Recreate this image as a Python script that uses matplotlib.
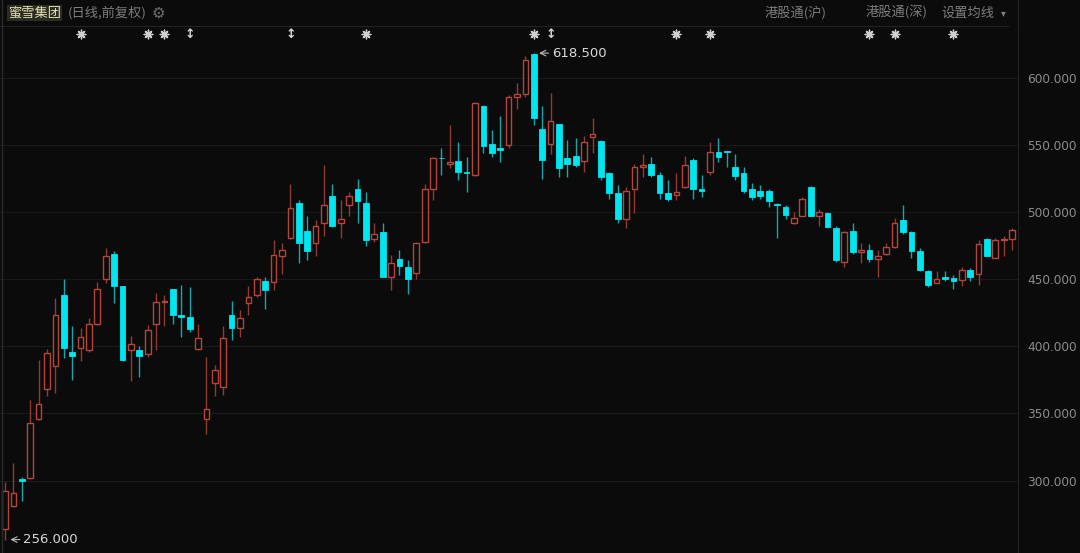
import numpy as np
import matplotlib
matplotlib.use('Agg')
import matplotlib.pyplot as plt
from matplotlib.lines import Line2D

plt.rcParams['font.family'] = ['Noto Sans CJK SC', 'DejaVu Sans']

# ==================== 数据（日线，前复权） ====================
opens = [264, 281, 301, 302, 346, 368, 385, 438, 396, 399,
         397, 417, 450, 469, 445, 397, 397, 394, 417, 433,
         443, 423, 422, 398, 346, 373, 370, 423, 414, 432,
         438, 449, 448, 467, 481, 507, 486, 477, 492, 512,
         492, 505, 517, 507, 480, 485, 452, 465, 459, 455,
         478, 517, 540.5, 536, 538, 530, 528, 579, 551, 548,
         550, 586, 588, 618, 562, 551, 566, 540, 542, 538,
         556, 553, 529, 514, 495, 517, 534, 536, 528, 514,
         513, 519, 539, 517, 530, 545, 545, 534, 529, 517,
         516, 516, 506, 504, 492, 497, 519, 497, 499, 488,
         463, 486, 470, 472, 465, 469, 474, 494, 485, 471,
         456, 447.5, 451.5, 451, 449.5, 457, 454, 480, 466, 479,
         480]
highs = [299, 313, 303, 360, 390, 398, 436, 450, 415, 414,
         421, 448, 473, 471, 445, 408, 400, 416, 440, 438,
         443, 446, 444, 417, 392, 386, 415, 434, 427, 445,
         452, 452, 479, 477, 521, 509, 497, 494, 535, 521,
         509, 515, 525, 515, 492, 492, 468, 472, 464, 478,
         521, 541, 548, 565, 552, 541, 582, 580, 561, 572,
         587, 596, 616, 618.5, 579, 589, 566, 554, 555, 557,
         570, 554, 530, 520, 519, 536, 543, 541, 530, 524,
         529, 542, 540, 528, 552, 555, 545.5, 543, 534, 522,
         520, 517, 507, 505, 500, 511, 519.5, 502, 500, 490,
         486, 492, 477, 476, 472, 477, 496, 505, 486, 473,
         457, 456, 456, 453, 459, 458, 479, 481, 481, 482,
         488]
lows = [256, 280, 285, 301, 345, 363, 365, 391, 375, 389,
        396, 416, 447, 432, 389, 374, 377, 392, 397, 415,
        417, 407, 411, 397, 335, 363, 364, 405, 407, 423,
        437, 428, 442, 454, 480, 462, 464, 467, 482, 489,
        481, 497, 492, 475, 478, 452, 442, 453, 439, 450,
        477, 509, 528, 533, 524, 515, 527, 544, 541, 537,
        548, 577, 586, 565, 525, 543, 526, 526, 534, 530,
        544, 524, 510, 492, 488, 499, 526, 526, 510, 508,
        509, 518, 510, 511, 528, 537, 534, 524, 514, 509,
        510, 504, 481, 495, 491, 497, 497, 490, 488, 463,
        459, 469, 462, 463, 452, 468, 473, 484, 466, 456,
        444, 447, 449, 443, 445, 449, 446, 467, 466, 467,
        472]
closes = [292, 291, 300, 343, 357, 395, 423, 399, 393, 407,
          417, 443, 467, 445, 390, 402, 393, 412, 433, 434,
          423, 422, 413, 406, 353, 382, 406, 414, 421, 437,
          450, 442, 468, 472, 503, 477, 471, 490, 505, 490,
          495, 512, 508, 479, 484, 452, 462, 460, 450, 477,
          517, 540, 540, 537, 530, 529, 581, 549, 544, 546,
          586, 588, 613, 570, 539, 568, 533, 536, 535, 552,
          558, 526, 514, 495, 516, 534, 535, 528, 514, 510,
          515, 535, 517, 516, 545, 541, 544.5, 527, 516, 511,
          512, 508, 505, 498, 496, 510, 497, 500, 489, 464,
          485, 470, 472, 465, 467, 474, 492, 485, 471, 457,
          446, 450.5, 450, 449, 457, 452, 476, 467, 479, 480,
          487]

# 顶部标记（星号 / 双箭头）所在的K线序号
star_idx = [9, 17, 19, 43, 63, 80, 84, 103, 106, 113]
arrow_idx = [22, 34, 65]

y_ticks = [300, 350, 400, 450, 500, 550, 600]
hi_label = '618.500'
lo_label = '256.000'

# ==================== 颜色 ====================
BG = '#0b0b0b'
UP = '#b5453b'
UP_WICK = '#8f3a33'
DOWN = '#00e6f0'
DOWN_WICK = '#14a7ad'
TEXT = '#8c8c8c'

W, H = 1080, 553
fig = plt.figure(figsize=(W / 100, H / 100), dpi=100, facecolor=BG)
ax = fig.add_axes([0, 0, 1018 / W, 527 / H], facecolor=BG)

o = np.array(opens, dtype=float)
h = np.array(highs, dtype=float)
l = np.array(lows, dtype=float)
c = np.array(closes, dtype=float)
x = np.arange(len(o))
up = c >= o

# 网格线
for v in y_ticks:
    ax.axhline(v, color='#1a1a1a', linewidth=0.8, zorder=0)

# 影线
ax.vlines(x[up], l[up], h[up], color=UP_WICK, linewidth=1, zorder=1)
ax.vlines(x[~up], l[~up], h[~up], color=DOWN_WICK, linewidth=1, zorder=1)

# 实体：阳线空心，阴线实心
body_lo = np.minimum(o, c)
body_h = np.maximum(np.abs(c - o), 0.7)
ax.bar(x[up], body_h[up], bottom=body_lo[up], width=0.68,
       facecolor=BG, edgecolor=UP, linewidth=1, zorder=2)
ax.bar(x[~up], body_h[~up], bottom=body_lo[~up], width=0.68,
       facecolor=DOWN, edgecolor=DOWN, linewidth=0.6, zorder=2)

ax.set_xlim(-0.6, 120.7)
ax.set_ylim(246, 638.7)

ax.yaxis.tick_right()
ax.set_yticks(y_ticks)
ax.set_yticklabels([f'{v:.3f}' for v in y_ticks], color=TEXT, fontsize=8.7,
                   family='DejaVu Sans')
ax.tick_params(axis='y', length=0, pad=6.5)
ax.set_xticks([])
for s in ['left', 'bottom', 'top']:
    ax.spines[s].set_visible(False)
ax.spines['right'].set_color('#262626')

# 最高/最低价标注
i_hi = int(np.argmax(h))
i_lo = int(np.argmin(l))
for i, val, lab in [(i_hi, h[i_hi], hi_label), (i_lo, l[i_lo], lo_label)]:
    ax.annotate('', xy=(i + 0.3, val), xytext=(i + 2.1, val),
                arrowprops=dict(arrowstyle='->', color='#bbbbbb', lw=0.8))
    ax.text(i + 2.2, val, lab, color='#d8d8d8', fontsize=9.5, va='center',
            family='DejaVu Sans')

# 顶部事件标记
mark_y = 632.5
ax.scatter(star_idx, [mark_y] * len(star_idx), marker=(8, 2, 0), s=38,
           color='#d0d0d0', linewidths=1.0, zorder=3, clip_on=False)
ax.scatter(star_idx, [mark_y] * len(star_idx), marker='o', s=8,
           color='#d0d0d0', zorder=3, clip_on=False)
for i in arrow_idx:
    ax.text(i, mark_y, '↕', color='#d8d8d8', fontsize=9, ha='center',
            va='center', family='DejaVu Sans', fontweight='bold')

# 顶部标题栏
fig.text(8 / W, 1 - 13 / H, '蜜雪集团', color='#e4e0b4', fontsize=9.5,
         va='center', ha='left',
         bbox=dict(boxstyle='square,pad=0.1', facecolor='#2b2d20', edgecolor='none'))
fig.text(68 / W, 1 - 13 / H, '(日线,前复权)', color='#7c7c7c', fontsize=9.5,
         va='center', ha='left')
fig.text(158 / W, 1 - 13 / H, '⚙', color='#6e6e6e', fontsize=11,
         va='center', ha='center', family='DejaVu Sans')
fig.text(765 / W, 1 - 13 / H, '港股通(沪)', color='#7c7c7c', fontsize=9.5,
         va='center', ha='left')
fig.text(866 / W, 1 - 13 / H, '港股通(深)', color='#7c7c7c', fontsize=9.5,
         va='center', ha='left')
fig.text(941 / W, 1 - 13 / H, '设置均线', color='#7c7c7c', fontsize=9.5,
         va='center', ha='left')
fig.text(1001 / W, 1 - 13 / H, '▾', color='#7c7c7c', fontsize=7,
         va='center', ha='left', family='DejaVu Sans')

fig.add_artist(Line2D([0, 1008 / W], [1 - 25.5 / H, 1 - 25.5 / H],
                      color='#222222', linewidth=0.8))
fig.add_artist(Line2D([1018 / W, 1018 / W], [0, 1], color='#222222', linewidth=0.8))
fig.add_artist(Line2D([1.5 / W, 1.5 / W], [0, 1], color='#2a2a2a', linewidth=1))

fig.savefig('out.png', dpi=100, facecolor=BG)
